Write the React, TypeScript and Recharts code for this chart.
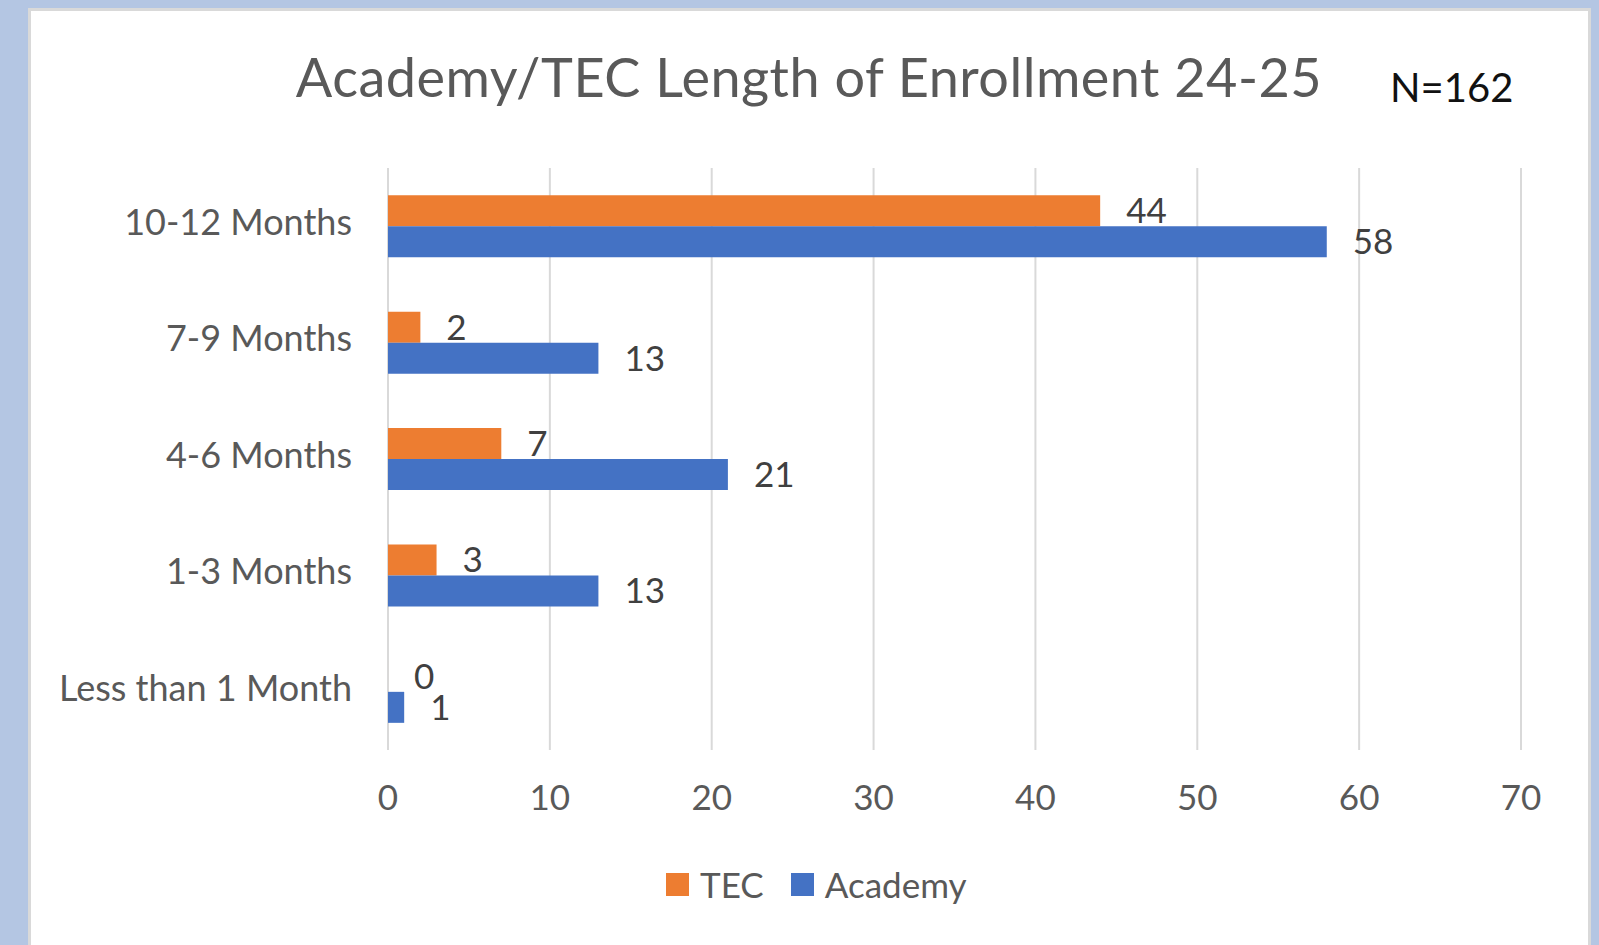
import React from "react";
import {
  Bar,
  BarChart,
  CartesianGrid,
  LabelList,
  Legend,
  XAxis,
  YAxis,
} from "recharts";

const categories = [
  "10-12 Months",
  "7-9 Months",
  "4-6 Months",
  "1-3 Months",
  "Less than 1 Month",
];
const tecValues = [44, 2, 7, 3, 0];
const academyValues = [58, 13, 21, 13, 1];
const xTicks = [0, 10, 20, 30, 40, 50, 60, 70];
const seriesOrder = ["TEC", "Academy"];

const data = categories.map((name, i) => ({
  name,
  TEC: tecValues[i],
  Academy: academyValues[i],
}));

const FONT = "Lato, 'Open Sans', sans-serif";
const GRAY = "#595959";

const LegendContent = ({ payload }: any) => {
  const items = [...(payload || [])].sort(
    (a: any, b: any) => seriesOrder.indexOf(a.value) - seriesOrder.indexOf(b.value)
  );
  return (
    <div style={{ display: "flex", alignItems: "center", fontFamily: FONT }}>
      {items.map((p: any, i: number) => (
        <div
          key={p.value}
          style={{ display: "flex", alignItems: "center", marginLeft: i ? 27 : 0 }}
        >
          <div style={{ width: 23, height: 23, background: p.color, marginRight: 11 }} />
          <span style={{ fontSize: 35, color: GRAY, lineHeight: "35px" }}>{p.value}</span>
        </div>
      ))}
    </div>
  );
};

const App = () => {
  return (
    <div
      style={{
        position: "absolute",
        left: 0,
        top: 0,
        width: 1599,
        height: 945,
        background: "#b4c6e3",
        overflow: "hidden",
      }}
    >
      <div
        style={{
          position: "absolute",
          left: 28,
          top: 8,
          width: 1557,
          height: 960,
          background: "#fff",
          border: "3px solid #d9d9d9",
        }}
      />
      <div
        style={{
          position: "absolute",
          left: 0,
          width: 1618,
          top: 50,
          textAlign: "center",
          fontFamily: FONT,
          fontSize: 54,
          letterSpacing: 0.5,
          lineHeight: 1,
          color: GRAY,
          whiteSpace: "nowrap",
        }}
      >
        Academy/TEC Length of Enrollment 24-25
      </div>
      <div
        style={{
          position: "absolute",
          left: 1390,
          top: 67,
          fontFamily: FONT,
          fontSize: 40,
          lineHeight: 1,
          color: "#111",
          whiteSpace: "nowrap",
        }}
      >
        N=162
      </div>
      <div style={{ position: "absolute", left: 0, top: 0 }}>
        <BarChart
          width={1599}
          height={945}
          data={data}
          layout="vertical"
          margin={{ top: 168, right: 78, bottom: 135, left: 0 }}
          barCategoryGap="23.4%"
          barGap={0}
        >
          <CartesianGrid horizontal={false} stroke="#d9d9d9" strokeWidth={2} />
          <XAxis
            type="number"
            domain={[0, 70]}
            ticks={xTicks}
            height={60}
            axisLine={false}
            tickLine={false}
            tickSize={0}
            tickMargin={35}
            tick={{ fill: GRAY, fontSize: 35, fontFamily: FONT }}
          />
          <YAxis
            type="category"
            dataKey="name"
            width={388}
            axisLine={false}
            tickLine={false}
            tickSize={0}
            tickMargin={36}
            tick={{ fill: GRAY, fontSize: 36, fontFamily: FONT, dy: -4 }}
          />
          <Legend
            verticalAlign="middle"
            align="center"
            content={<LegendContent />}
            wrapperStyle={{ top: 867, left: 666, width: "auto" }}
          />
          <Bar dataKey="TEC" fill="#ED7D31" minPointSize={0.01} isAnimationActive={false}>
            <LabelList
              dataKey="TEC"
              position="right"
              offset={26}
              fill="#404040"
              fontSize={35}
              fontFamily={FONT}
            />
          </Bar>
          <Bar dataKey="Academy" fill="#4472C4" isAnimationActive={false}>
            <LabelList
              dataKey="Academy"
              position="right"
              offset={26}
              fill="#404040"
              fontSize={35}
              fontFamily={FONT}
            />
          </Bar>
        </BarChart>
      </div>
    </div>
  );
};

export default App;
